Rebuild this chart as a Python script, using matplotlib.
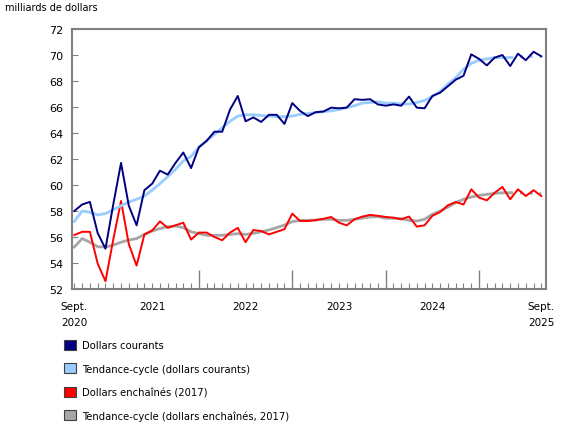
import numpy as np
import matplotlib
matplotlib.use('Agg')
import matplotlib.pyplot as plt
from matplotlib.patches import Patch

# mensuel, sept. 2020 a sept. 2025
courants = [58.0, 58.5, 58.7, 56.3, 55.1, 58.5, 61.7, 58.4, 56.9, 59.6,
            60.1, 61.1, 60.8, 61.7, 62.5, 61.3, 62.9, 63.4, 64.1, 64.1,
            65.8, 66.85, 64.9, 65.2, 64.85, 65.4, 65.4, 64.7, 66.3, 65.7,
            65.3, 65.6, 65.65, 65.95, 65.9, 65.95, 66.6, 66.55, 66.6, 66.2,
            66.1, 66.2, 66.1, 66.8, 65.95, 65.9, 66.85, 67.1, 67.6, 68.1,
            68.4, 70.05, 69.7, 69.2, 69.8, 70.0, 69.15, 70.1, 69.6, 70.25,
            69.9]
tend_courants = [57.2, 58.0, 57.9, 57.7, 57.8, 58.1, 58.4, 58.7, 58.9, 59.15,
                 59.6, 60.1, 60.65, 61.2, 61.85, 62.2, 62.9, 63.4, 63.9, 64.4,
                 64.9, 65.3, 65.4, 65.4, 65.35, 65.3, 65.26, 65.26, 65.3, 65.44,
                 65.5, 65.57, 65.65, 65.7, 65.8, 65.95, 66.1, 66.3, 66.35, 66.4,
                 66.3, 66.3, 66.23, 66.23, 66.35, 66.5, 66.8, 67.2, 67.75, 68.26,
                 68.9, 69.36, 69.6, 69.7, 69.8, 69.8, 69.8, 69.85, 69.9, 69.9,
                 69.9]
enchaines = [56.15, 56.4, 56.4, 53.95, 52.6, 55.8, 58.77, 55.45, 53.8, 56.2,
             56.5, 57.2, 56.7, 56.9, 57.1, 55.8, 56.34, 56.34, 56.0, 55.75,
             56.34, 56.7, 55.6, 56.54, 56.46, 56.2, 56.4, 56.6, 57.8, 57.23,
             57.23, 57.3, 57.4, 57.54, 57.1, 56.9, 57.36, 57.57, 57.7, 57.63,
             57.54, 57.49, 57.36, 57.57, 56.8, 56.9, 57.63, 57.92, 58.44, 58.69,
             58.5, 59.67, 59.03, 58.82, 59.4, 59.85, 58.9, 59.67, 59.15, 59.6,
             59.15]
tend_enchaines = [55.23, 55.88, 55.6, 55.25, 55.23, 55.38, 55.6, 55.77, 55.88, 56.2,
                  56.46, 56.65, 56.8, 56.85, 56.72, 56.4, 56.26, 56.13, 56.13, 56.13,
                  56.2, 56.26, 56.2, 56.28, 56.4, 56.54, 56.72, 56.92, 57.18, 57.28,
                  57.28, 57.3, 57.36, 57.36, 57.28, 57.28, 57.36, 57.46, 57.54, 57.57,
                  57.44, 57.44, 57.41, 57.28, 57.23, 57.36, 57.75, 58.0, 58.3, 58.65,
                  58.9, 59.08, 59.2, 59.28, 59.36, 59.4, 59.4, 59.4, 59.4, 59.36,
                  59.33]

labels_annee = ['Sept.\n2020', '2021', '2022', '2023', '2024', 'Sept.\n2025']
pos_annee = [0, 10, 22, 34, 46, 60]
sep_annee = [16, 28, 40, 52]
prov = 56  # debut des points provisoires de la tendance

c_bleu = '#000080'
c_bleuc = '#99CCFF'
c_rouge = '#FF0000'
c_gris = '#A6A6A6'
c_axe = '#808080'

plt.rcParams['font.family'] = 'DejaVu Sans'
plt.rcParams['font.size'] = 7

fig = plt.figure(figsize=(5.8, 4.35), dpi=100)
ax = fig.add_axes([72/580, 1-290/435, (546-72)/580, (290-30)/435])

x = np.arange(len(courants))

ax.plot(x[:prov+1], tend_enchaines[:prov+1], color=c_gris, lw=2)
ax.plot(x[prov:], tend_enchaines[prov:], color=c_gris, lw=2.2, ls=(0, (1, 2.2)))
ax.plot(x, enchaines, color=c_rouge, lw=1.4)
ax.plot(x[:prov+1], tend_courants[:prov+1], color=c_bleuc, lw=2)
ax.plot(x[prov:], tend_courants[prov:], color=c_bleuc, lw=2.2, ls=(0, (1, 2.2)))
ax.plot(x, courants, color=c_bleu, lw=1.4)

ax.set_xlim(-0.3, 60.6)
ax.set_ylim(52, 72)
ax.set_yticks(np.arange(52, 73, 2))

ax.set_xticks(x, minor=True)
ax.set_xticks(sep_annee)
ax.set_xticklabels([])
ax.tick_params(axis='x', which='minor', direction='in', length=4, width=0.8, color=c_axe)
ax.tick_params(axis='x', which='major', direction='in', length=14, width=1, color=c_axe)
ax.tick_params(axis='y', direction='in', length=4, width=0.8, color=c_axe, pad=6, labelsize=8)

for s in ax.spines.values():
    s.set_color(c_axe)
    s.set_linewidth(1.5)

for p, lab in zip(pos_annee, labels_annee):
    ax.text(p, -0.045, lab, transform=ax.get_xaxis_transform(), ha='center', va='top',
            fontsize=7.5, linespacing=1.75)

fig.text(5/580, 1-8/435, 'milliards de dollars', fontsize=7, va='center')

handles = [Patch(facecolor=c_bleu, edgecolor='#404040', lw=0.8),
           Patch(facecolor=c_bleuc, edgecolor='#404040', lw=0.8),
           Patch(facecolor=c_rouge, edgecolor='#404040', lw=0.8),
           Patch(facecolor=c_gris, edgecolor='#404040', lw=0.8)]
noms = ['Dollars courants', 'Tendance-cycle (dollars courants)',
        'Dollars enchaînés (2017)', 'Tendance-cycle (dollars enchaînés, 2017)']
fig.legend(handles, noms, loc='upper left', bbox_to_anchor=(55/580, 1-332/435),
           frameon=False, handlelength=1.15, handleheight=1.15, handletextpad=0.7,
           labelspacing=1.3, fontsize=7.2)

fig.savefig('out.png', dpi=100)
